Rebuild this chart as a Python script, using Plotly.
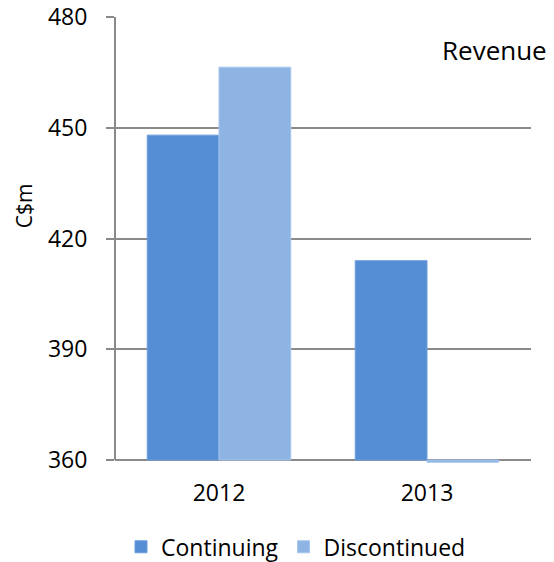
import plotly.graph_objects as go

# Revenue by year, split into continuing and discontinued operations (C$m)
years = ["2012", "2013"]
continuing = [448.0, 414.0]
discontinued = [466.4, 359.4]
y_ticks = [360, 390, 420, 450, 480]

AXIS_MIN = 360
FONT = "Open Sans"
GRID = "#8a8a8a"

fig = go.Figure()
fig.add_trace(go.Bar(
    name="Continuing", x=years, y=[v - AXIS_MIN for v in continuing], base=AXIS_MIN,
    marker=dict(color="#558ED5", line=dict(color="#6c9edc", width=1)),
    hoverinfo="skip",
))
fig.add_trace(go.Bar(
    name="Discontinued", x=years, y=[v - AXIS_MIN for v in discontinued], base=AXIS_MIN,
    marker=dict(color="#8EB4E3", line=dict(color="#a6c5ec", width=1)),
    hoverinfo="skip",
))

fig.update_layout(
    width=554, height=562,
    margin=dict(l=115, r=23, t=17, b=99, autoexpand=False),
    paper_bgcolor="white", plot_bgcolor="white",
    barmode="group", bargap=0.31, bargroupgap=0,
    font=dict(family=FONT, size=23, color="#000000"),
    showlegend=True,
    legend=dict(
        orientation="h", x=121 / 554, xanchor="left", xref="container",
        y=0.027, yanchor="middle", yref="container",
        font=dict(size=23), itemclick=False, traceorder="normal",
        itemwidth=30,
    ),
    xaxis=dict(
        showgrid=False, showline=False, ticks="", zeroline=False, automargin=False,
        tickfont=dict(size=23), ticklabelstandoff=14,
    ),
    yaxis=dict(
        range=[359.2, 480], tickvals=y_ticks, ticktext=[str(v) for v in y_ticks],
        showgrid=True, gridcolor=GRID, gridwidth=2, automargin=False,
        showline=False, zeroline=False,
        ticks="outside", ticklen=8, tickwidth=2, tickcolor=GRID,
        tickfont=dict(size=23), ticklabelstandoff=14,
    ),
    shapes=[
        # vertical value axis from the 360 baseline to the top
        dict(type="line", xref="paper", yref="y", x0=0, x1=0, y0=AXIS_MIN, y1=480,
             line=dict(color=GRID, width=2), layer="above"),
    ],
    annotations=[
        dict(text="Revenue", xref="paper", yref="paper", x=1.044, y=0.926,
             xanchor="right", yanchor="middle", showarrow=False,
             font=dict(size=26, family=FONT)),
        dict(text="C$m", xref="paper", yref="y", x=-0.219, y=429,
             xanchor="center", yanchor="middle", textangle=-90, showarrow=False,
             font=dict(size=21, family=FONT)),
    ],
)

fig.write_html("out.html")
